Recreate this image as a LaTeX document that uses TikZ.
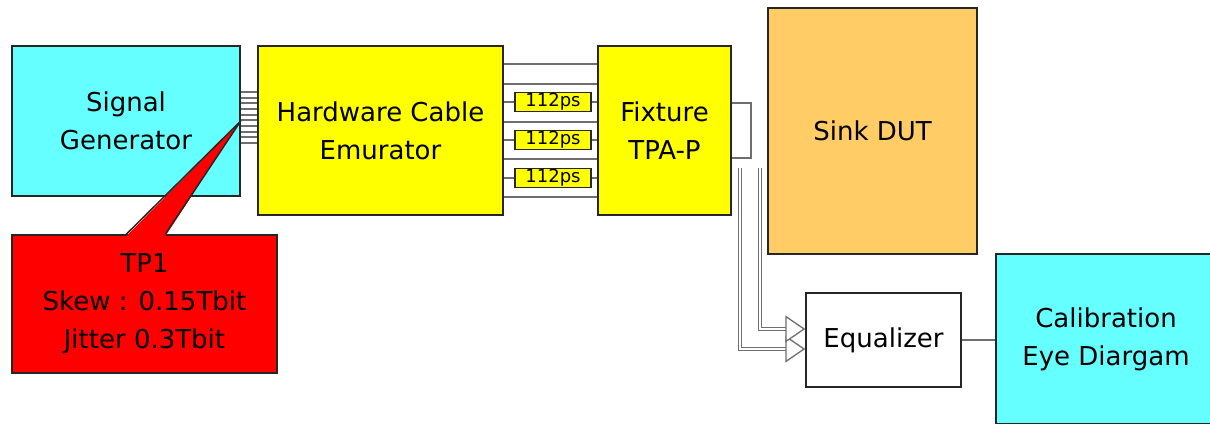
\documentclass[tikz,border=0pt]{standalone}
\usepackage{fontspec}
\setmainfont{DejaVu Sans}
\definecolor{ciel}{RGB}{102,255,255}
\definecolor{jaune}{RGB}{255,255,0}
\definecolor{abricot}{RGB}{255,204,102}
\definecolor{rouge}{RGB}{255,0,0}
\definecolor{gris}{RGB}{110,110,110}
\usetikzlibrary{arrows.meta,positioning,calc}

\begin{document}
\begin{tikzpicture}[x=1pt,y=-1pt,font=\fontsize{26}{38}\selectfont,
	bloc/.style={draw=black!85,line width=1.5pt,align=center,inner sep=0pt},
	fil/.style={draw=gris,line width=2pt},
	retard/.style={draw=black!85,fill=jaune,line width=1.3pt,minimum width=76pt,minimum height=19pt,inner sep=0pt,font=\fontsize{18}{18}\selectfont},
	creux/.style={draw=gris,line width=1.3pt,double=white,double distance=2.2pt,-{Triangle[open,length=20pt,width=27pt,fill=white]}}]
	
	\clip (0,0) rectangle (1210,423);
	\fill[white] (0,0) rectangle (1210,423);
	
	% blocs
	\node[bloc,fill=ciel,minimum width=228pt,minimum height=150pt] (sg) at (126,121) {Signal\\Generator};
	\node[bloc,fill=jaune,minimum width=245pt,minimum height=169pt] (hce) at (380.5,130.5) {Hardware Cable\\Emurator};
	\node[bloc,fill=jaune,minimum width=133pt,minimum height=169pt] (fix) at (664.5,130.5) {Fixture\\TPA-P};
	\node[bloc,fill=abricot,minimum width=209pt,minimum height=246pt] (dut) at (872.5,131) {Sink DUT};
	\node[bloc,fill=white,minimum width=155pt,minimum height=94pt] (eq) at (883.5,340) {Equalizer};
	\node[bloc,fill=ciel,minimum width=220pt,minimum height=170pt] (cal) at (1106,339) {Calibration\\Eye Diargam};
	
	% fils SG -> HCE
	\foreach \i [evaluate=\i as \yy using 92+5.67*\i] in {0,...,9}
		\draw[fil] (sg.east |- 0,\yy) -- (hce.west |- 0,\yy);
	
	% fils HCE -> fixture
	\foreach \yy in {64,84,122,159,197}
		\draw[fil] (hce.east |- 0,\yy) -- (fix.west |- 0,\yy);
	\node[retard] (r1) at (553,102) {112ps};
	\node[retard] (r2) at (553,140) {112ps};
	\node[retard] (r3) at (553,178) {112ps};
	\foreach \r in {r1,r2,r3}
		\draw[fil] (hce.east |- \r) -- (\r) -- (fix.west |- \r);
	
	% boucle
	\coordinate (bo1) at (fix.east |- 0,103);
	\coordinate (bo2) at (fix.east |- 0,158);
	\draw[fil] (bo1) -- ++(19,0) |- (bo2);
	
	% sorties
	\coordinate (sa) at (740,168);
	\coordinate (sb) at (760,168);
	\draw[creux] (sa) |- ([yshift=-9pt]eq.west);
	\draw[creux] (sb) |- ([yshift=11pt]eq.west);
	\draw[fil] (eq.east) -- (eq.east -| cal.west);
	
	% TP1
	\node[bloc,fill=rouge,minimum width=265pt,minimum height=138pt] (tp1) at (144.5,304) {TP1\\Skew : 0.15Tbit\\Jitter 0.3Tbit};
	\fill[rouge] ([xshift=115pt,yshift=-2pt]tp1.north west) -- (sg.east) -- ([xshift=154pt,yshift=-2pt]tp1.north west) -- cycle;
	\draw[draw=black!85,line width=1.5pt,line join=round] ([xshift=115pt]tp1.north west) -- (sg.east) -- ([xshift=154pt]tp1.north west);
\end{tikzpicture}
\end{document}
